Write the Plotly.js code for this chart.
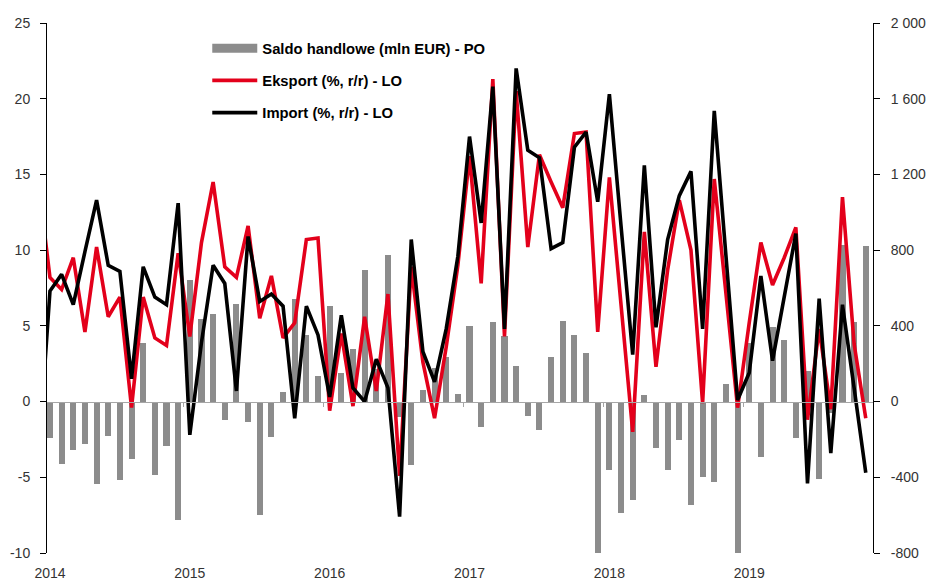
<!DOCTYPE html>
<html>
<head>
<meta charset="utf-8">
<script src="https://cdn.plot.ly/plotly-3.0.1.min.js"></script>
<style>html,body{margin:0;padding:0;background:#fff;}#chart{width:926px;height:583px;}</style>
</head>
<body>
<div id="chart"></div>
<script>
// Months: Dec 2013 (partly visible at the left edge) to Nov 2019
var months = [];
(function(){ months.push('2013-12'); for (var y = 2014; y <= 2019; y++) { for (var m = 1; m <= 12; m++) { if (y === 2019 && m > 11) break; months.push(y + '-' + (m < 10 ? '0' + m : m)); } } })();

var yearLabels = ['2014', '2015', '2016', '2017', '2018', '2019'];

// Saldo handlowe (mln EUR) - right axis
var saldo = [null,
  -195, -330, -258, -223, -435, -180, -413, -303, 310, -390, -233, -627,
  641, 437, 465, -99, 518, -107, -597, -186, 49, 543, 350, 137,
  507, 150, 280, 694, 170, 775, -80, -336, 63, 178, 234, 42,
  397, -134, 419, 345, 188, -78, -152, 235, 424, 350, 257, -805,
  -359, -588, -521, 37, -245, -359, -204, -549, -400, -424, 95, -805,
  310, -292, 395, 327, -192, 160, -408, -60, 829, 419, 820];

// Eksport (%, r/r) - left axis
var eksport = [14.6,
  8.2, 7.4, 9.5, 4.6, 10.2, 5.6, 6.9, -0.4, 6.9, 4.2, 3.7, 9.8,
  4.3, 10.5, 14.5, 8.9, 8.2, 11.6, 5.5, 8.3, 4.2, 5.2, 10.7, 10.8,
  -0.6, 4.5, -0.3, 5.6, 0.7, 7.1, -4.9, 8.9, 2.6, -1.1, 3.6, 9.0,
  16.2, 7.8, 21.3, 4.3, 20.5, 10.2, 16.3, 14.5, 12.8, 17.7, 17.8, 4.6,
  14.8, 6.4, -2.0, 11.2, 2.3, 8.7, 13.3, 10.0, -0.1, 14.7, 7.1, -0.4,
  5.2, 10.5, 7.7, 9.5, 11.5, -1.2, 4.8, -0.5, 13.5, 3.8, -1.1];

// Import (%, r/r) - left axis
var importV = [-3.9,
  7.3, 8.4, 6.4, 9.9, 13.3, 9.0, 8.6, 1.5, 8.9, 6.9, 6.4, 13.1,
  -2.2, 3.9, 9.0, 7.8, 0.7, 10.9, 6.6, 7.1, 6.3, -1.1, 6.3, 4.4,
  0.3, 5.7, 0.9, 0.0, 2.8, 0.9, -7.6, 10.7, 3.3, 1.3, 4.8, 9.6,
  17.5, 11.8, 20.8, 4.8, 22.0, 16.6, 16.1, 10.1, 10.5, 16.8, 17.8, 13.2,
  20.3, 11.6, 3.1, 15.6, 4.9, 10.7, 13.6, 15.2, 4.8, 19.2, 9.6, 0.1,
  1.9, 8.3, 2.7, 6.9, 11.1, -5.4, 6.8, -3.4, 6.4, 0.9, -4.7];

var leftTicks = [-10, -5, 0, 5, 10, 15, 20, 25];
var leftTickText = ['-10', '-5', '0', '5', '10', '15', '20', '25'];
var rightTicks = [-800, -400, 0, 400, 800, 1200, 1600, 2000];
var rightTickText = ['-800', '-400', '0', '400', '800', '1 200', '1 600', '2 000'];

var names = ['Saldo handlowe (mln EUR) - PO', 'Eksport (%, r/r) - LO', 'Import (%, r/r) - LO'];

var xs = months.map(function(m, i){ return i; });
var janIdx = yearLabels.map(function(y){ return months.indexOf(y + '-01'); });
var boundaries = janIdx.map(function(i){ return i - 0.5; });
var xRange = [0.66, 71.62];

var RED = '#e3001b', GREY = '#8c8c8c';

var traces = [
  { type: 'bar', x: xs, y: saldo, xaxis: 'x', yaxis: 'y', width: 0.52,
    marker: { color: GREY, line: { width: 0 } }, showlegend: false, name: names[0], hoverinfo: 'y' },
  { type: 'scatter', mode: 'lines', x: [null], y: [null], xaxis: 'x', yaxis: 'y',
    line: { color: GREY, width: 9 }, name: names[0], legendgroup: 'a', showlegend: true },
  { type: 'scatter', mode: 'lines', x: xs, y: eksport, xaxis: 'x2', yaxis: 'y2',
    line: { color: RED, width: 3.6 }, name: names[1], legendgroup: 'b' },
  { type: 'scatter', mode: 'lines', x: xs, y: importV, xaxis: 'x2', yaxis: 'y2',
    line: { color: '#000000', width: 3.6 }, name: names[2], legendgroup: 'c' }
];

var axisFont = { family: 'Liberation Sans, Arial, sans-serif', size: 14, color: '#333333' };

var layout = {
  width: 926, height: 583,
  margin: { l: 46, r: 53, t: 23, b: 30, pad: 0 },
  paper_bgcolor: '#ffffff', plot_bgcolor: '#ffffff',
  font: axisFont,
  bargap: 0,
  xaxis: { range: xRange, tickmode: 'array', tickvals: janIdx, ticktext: yearLabels,
    ticks: '', showline: false, showgrid: false, zeroline: false, tickfont: axisFont, ticklabelstandoff: 10 },
  xaxis2: { overlaying: 'x', anchor: 'free', position: 10 / 35, range: xRange,
    showline: true, linecolor: '#a6a6a6', linewidth: 1.5,
    ticks: 'outside', ticklen: 4, tickwidth: 1, tickcolor: '#a6a6a6',
    tickmode: 'array', tickvals: boundaries, showticklabels: false, showgrid: false, zeroline: false },
  yaxis: { range: [-800, 2000], side: 'right', anchor: 'x',
    tickmode: 'array', tickvals: rightTicks, ticktext: rightTickText,
    showline: true, linecolor: '#000', linewidth: 1, ticks: 'outside', ticklen: 6, tickcolor: '#000',
    showgrid: false, zeroline: false, tickfont: axisFont, ticklabelstandoff: 8 },
  yaxis2: { range: [-10, 25], overlaying: 'y', side: 'left', anchor: 'free', position: 0,
    tickmode: 'array', tickvals: leftTicks, ticktext: leftTickText,
    showline: true, linecolor: '#000', linewidth: 1, ticks: 'outside', ticklen: 6, tickcolor: '#000',
    showgrid: false, zeroline: false, tickfont: axisFont, ticklabelstandoff: 7 },
  showlegend: true,
  legend: { x: 0.195, y: 0.983, xanchor: 'left', yanchor: 'top', bgcolor: 'rgba(0,0,0,0)',
    traceorder: 'grouped', tracegroupgap: 10, itemwidth: 45,
    font: { family: 'Liberation Sans, Arial, sans-serif', size: 14.8, color: '#000', weight: 'bold' } }
};

Plotly.newPlot('chart', traces, layout, { displayModeBar: false, staticPlot: true });
</script>
</body>
</html>
